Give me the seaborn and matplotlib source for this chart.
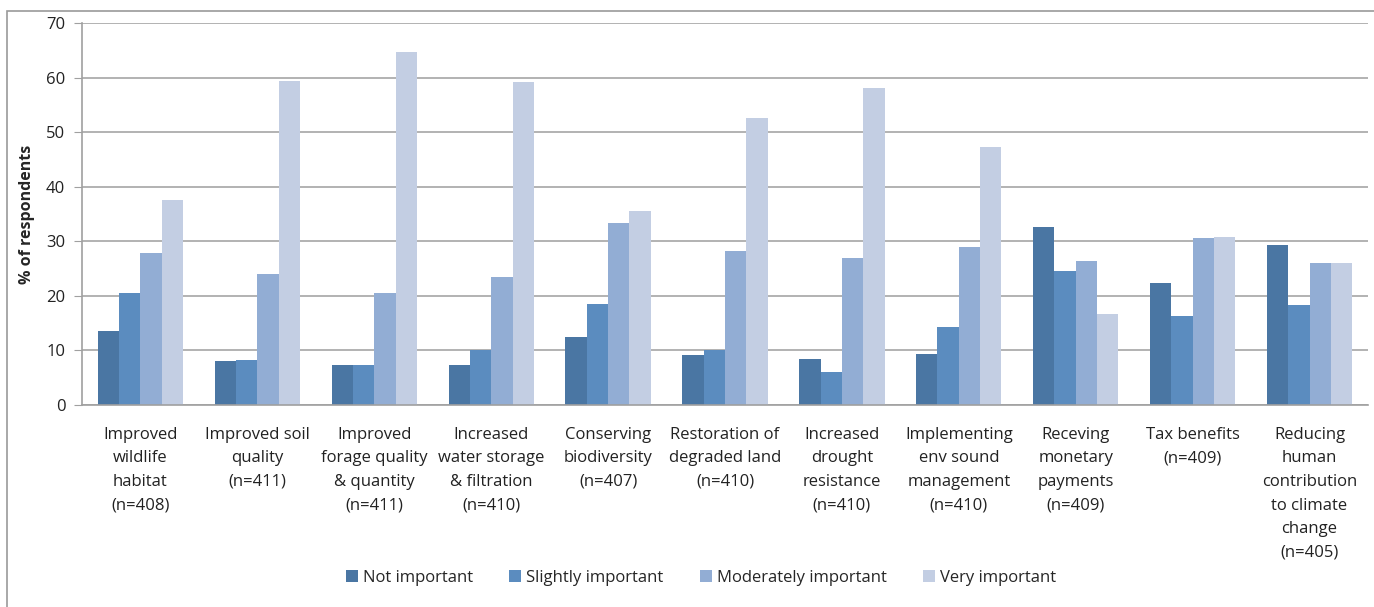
import numpy as np
import pandas as pd
import matplotlib
matplotlib.use('Agg')
import matplotlib.pyplot as plt
import seaborn as sns
from matplotlib.patches import Rectangle

# categories and survey results (% of respondents)
categories = [
    'Improved\nwildlife\nhabitat\n(n=408)',
    'Improved soil\nquality\n(n=411)',
    'Improved\nforage quality\n& quantity\n(n=411)',
    'Increased\nwater storage\n& filtration\n(n=410)',
    'Conserving\nbiodiversity\n(n=407)',
    'Restoration of\ndegraded land\n(n=410)',
    'Increased\ndrought\nresistance\n(n=410)',
    'Implementing\nenv sound\nmanagement\n(n=410)',
    'Receving\nmonetary\npayments\n(n=409)',
    'Tax benefits\n(n=409)',
    'Reducing\nhuman\ncontribution\nto climate\nchange\n(n=405)',
]
levels = ['Not important', 'Slightly important', 'Moderately important', 'Very important']

not_important = [13.6, 8.0, 7.3, 7.3, 12.5, 9.2, 8.5, 9.3, 32.6, 22.4, 29.4]
slightly_important = [20.5, 8.2, 7.3, 10.0, 18.5, 10.0, 6.1, 14.3, 24.6, 16.4, 18.4]
moderately_important = [27.8, 24.0, 20.5, 23.4, 33.4, 28.3, 27.0, 29.0, 26.4, 30.6, 26.1]
very_important = [37.6, 59.4, 64.7, 59.2, 35.6, 52.6, 58.0, 47.3, 16.6, 30.8, 26.1]

colors = ['#4A76A3', '#5B8CBF', '#92ADD4', '#C3CEE3']

rows = []
for lvl, vals in zip(levels, [not_important, slightly_important, moderately_important, very_important]):
    for cat, v in zip(categories, vals):
        rows.append([cat, lvl, v])
df = pd.DataFrame(rows, columns=['category', 'importance', 'percent'])

sns.set_style('white')
plt.rcParams['font.family'] = ['Open Sans', 'DejaVu Sans']

fig = plt.figure(figsize=(13.74, 6.07), dpi=100)
ax = fig.add_axes([82 / 1374, 1 - 405 / 607, 1286 / 1374, 382 / 607])

sns.barplot(data=df, x='category', y='percent', hue='importance',
            order=categories, hue_order=levels, palette=colors,
            width=0.73, saturation=1, linewidth=0, ax=ax, legend=True)

ax.set_ylim(0, 70)
ax.set_xlim(-0.5, len(categories) - 0.5)
ax.set_yticks(range(0, 71, 10))
ax.yaxis.grid(True, color='#A6A6A6', linewidth=1.2)
ax.set_axisbelow(True)
for s in ['top', 'right']:
    ax.spines[s].set_visible(False)
for s in ['left', 'bottom']:
    ax.spines[s].set_color('#A0A0A0')
    ax.spines[s].set_linewidth(1.2)
ax.tick_params(axis='y', which='both', left=True, length=6, color='#A0A0A0',
               labelsize=12, labelcolor='#222222', pad=6)
ax.tick_params(axis='x', bottom=False, labelsize=12, labelcolor='#222222', pad=12)
ax.set_xlabel('')
ax.set_ylabel('% of respondents', fontsize=11.5, fontweight='bold', labelpad=8)
for t in ax.get_xticklabels():
    t.set_linespacing(1.64)
    t.set_verticalalignment('top')

ax.legend(loc='center', bbox_to_anchor=((701 - 82) / 1286, 1 - (578 - 23) / 382), ncol=4,
          frameon=False, fontsize=12, handlelength=0.7, handleheight=0.7,
          handletextpad=0.3, columnspacing=2.2)

# outer chart frame (extends past right edge like the reference)
fig.patches.append(Rectangle((7 / 1374, -0.1), 1.2, 1 - 11 / 607 + 0.1,
                             transform=fig.transFigure, fill=False,
                             edgecolor='#9A9A9A', linewidth=1.2))

fig.savefig('out.png', dpi=100)
